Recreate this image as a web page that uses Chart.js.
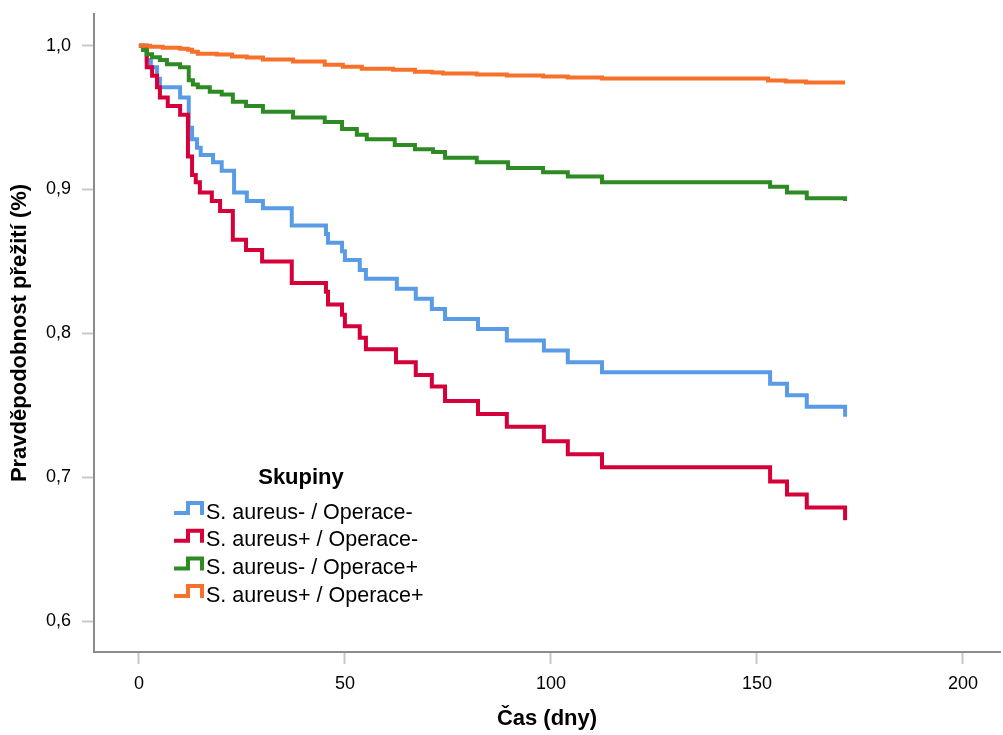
<!DOCTYPE html>
<html lang="cs">
<head>
<meta charset="utf-8">
<title>Přežití podle skupin</title>
<script src="https://cdn.jsdelivr.net/npm/chart.js@4.4.1/dist/chart.umd.min.js"></script>
<style>
  html, body { margin: 0; padding: 0; background: #fff; }
  #wrap { width: 1003px; height: 735px; }
</style>
</head>
<body>
<div id="wrap"><canvas id="kmChart" width="1003" height="735"></canvas></div>
<script>
// --- data (time in days, survival probability) ---
const groupNames = ['S. aureus- / Operace-', 'S. aureus+ / Operace-', 'S. aureus- / Operace+', 'S. aureus+ / Operace+'];
const groupColors = ['#5a9be6', '#d5003a', '#2e8a22', '#f7712a'];
const legendTitle = 'Skupiny';

const xTicks = [0, 50, 100, 150, 200];
const yTicks = [0.6, 0.7, 0.8, 0.9, 1.0];

const timeA = [0, 1.9, 2.9, 4.4, 5.1, 10.0, 12.1, 12.9, 14.1, 15.0, 18.0, 20.1, 23.1, 26.2, 30.1, 37.1, 45.4, 45.9, 49.3, 50.0, 53.6, 55.1, 62.6, 67.2, 71.1, 74.3, 82.3, 89.3, 98.3, 104.1, 112.4, 153.2, 157.3, 162.1, 171.4];
const survA = [1.000, 0.990, 0.985, 0.977, 0.971, 0.964, 0.943, 0.935, 0.929, 0.924, 0.919, 0.913, 0.898, 0.892, 0.887, 0.875, 0.869, 0.863, 0.857, 0.851, 0.844, 0.838, 0.831, 0.824, 0.817, 0.810, 0.803, 0.795, 0.788, 0.780, 0.773, 0.765, 0.757, 0.749, 0.742];

const timeB = [0, 1.9, 3.2, 4.4, 5.1, 7.0, 10.0, 11.9, 12.9, 13.8, 14.8, 17.7, 19.7, 22.8, 26.0, 29.9, 37.1, 45.4, 45.9, 49.3, 50.0, 53.6, 55.1, 62.4, 67.2, 71.1, 74.3, 82.3, 89.3, 98.3, 104.1, 112.4, 153.2, 157.3, 162.1, 171.4];
const survB = [1.000, 0.985, 0.979, 0.971, 0.964, 0.958, 0.952, 0.923, 0.910, 0.905, 0.898, 0.892, 0.885, 0.865, 0.858, 0.850, 0.835, 0.829, 0.820, 0.813, 0.805, 0.797, 0.789, 0.780, 0.771, 0.763, 0.753, 0.744, 0.735, 0.725, 0.716, 0.707, 0.697, 0.688, 0.679, 0.670];

const timeC = [0, 1.0, 1.9, 3.2, 5.1, 6.8, 10.0, 12.1, 13.1, 14.3, 17.2, 20.1, 22.8, 26.0, 30.1, 37.4, 45.1, 49.3, 52.9, 55.3, 62.1, 67.0, 71.4, 74.3, 82.0, 89.6, 98.1, 104.1, 112.4, 153.2, 157.3, 162.1, 171.4];
const survC = [1.000, 0.997, 0.994, 0.992, 0.990, 0.987, 0.985, 0.976, 0.973, 0.971, 0.968, 0.966, 0.961, 0.958, 0.954, 0.950, 0.947, 0.942, 0.938, 0.935, 0.931, 0.928, 0.926, 0.922, 0.919, 0.915, 0.912, 0.909, 0.905, 0.902, 0.898, 0.894, 0.892];

const timeD = [0, 2.7, 5.8, 10.0, 11.9, 12.9, 14.3, 18.9, 22.6, 26.2, 30.1, 37.4, 45.1, 49.5, 54.1, 61.7, 67.0, 71.1, 73.8, 82.0, 89.3, 98.1, 104.1, 112.4, 152.7, 157.0, 161.9, 171.4];
const survD = [1.000, 0.9993, 0.9986, 0.9979, 0.9972, 0.9958, 0.9944, 0.9938, 0.9924, 0.9917, 0.9903, 0.9889, 0.9868, 0.9854, 0.9840, 0.9833, 0.9819, 0.9813, 0.9806, 0.9799, 0.9792, 0.9785, 0.9778, 0.9771, 0.9757, 0.9750, 0.9743, 0.9743];

const FONT = 'Arial, "Liberation Sans", Helvetica, sans-serif';

const toPoints = (t, s) => t.map((v, i) => ({ x: v, y: s[i] }));
const series = [toPoints(timeA, survA), toPoints(timeB, survB), toPoints(timeC, survC), toPoints(timeD, survD)];

// legend drawn inside the plot, SPSS style with step icons
const stepLegend = {
    id: 'stepLegend',
    afterDatasetsDraw(chart) {
        const ctx = chart.ctx;
        ctx.save();
        ctx.fillStyle = '#000';
        ctx.textBaseline = 'alphabetic';
        ctx.font = 'bold 22px ' + FONT;
        ctx.textAlign = 'center';
        ctx.fillText(legendTitle, 301, 484);
        ctx.font = '21.5px ' + FONT;
        ctx.textAlign = 'left';
        groupNames.forEach((name, i) => {
            const base = 518.5 + i * 27.7;
            ctx.strokeStyle = groupColors[i];
            ctx.lineWidth = 4;
            ctx.lineJoin = 'miter';
            ctx.beginPath();
            ctx.moveTo(174, base - 5.5);
            ctx.lineTo(188, base - 5.5);
            ctx.lineTo(188, base - 15.5);
            ctx.lineTo(202, base - 15.5);
            ctx.lineTo(202, base - 3.5);
            ctx.stroke();
            ctx.fillText(name, 206, base);
        });
        ctx.restore();
    }
};

const fmt = v => Number(v).toFixed(1).replace('.', ',');

new Chart(document.getElementById('kmChart'), {
    type: 'line',
    data: {
        datasets: series.map((pts, i) => ({
            label: groupNames[i],
            data: pts,
            borderColor: groupColors[i],
            backgroundColor: groupColors[i],
            borderWidth: 4,
            stepped: true,
            pointRadius: 0,
            fill: false,
            borderJoinStyle: 'miter',
            borderCapStyle: 'butt',
            order: 4 - i
        }))
    },
    options: {
        responsive: false,
        animation: false,
        events: [],
        layout: { padding: { top: 14, right: 3, left: 0, bottom: 0 } },
        plugins: { legend: { display: false }, tooltip: { enabled: false } },
        scales: {
            x: {
                type: 'linear',
                min: -10.9,
                max: 209,
                afterBuildTicks: s => { s.ticks = xTicks.map(v => ({ value: v })); },
                afterFit: s => { s.height = 83; s.paddingLeft = 0; s.paddingRight = 0; },
                ticks: { color: '#000', font: { family: FONT, size: 18 }, padding: 9, maxRotation: 0 },
                grid: { drawOnChartArea: false, drawTicks: true, tickLength: 12, tickColor: '#c8c8c8', tickWidth: 2 },
                border: { display: true, color: '#8c8c8c', width: 2 },
                title: { display: true, text: 'Čas (dny)', color: '#000', font: { family: FONT, size: 22, weight: 'bold' }, padding: { top: 0, bottom: 3 } }
            },
            y: {
                type: 'linear',
                min: 0.5785,
                max: 1.022,
                afterBuildTicks: s => { s.ticks = yTicks.map(v => ({ value: v })); },
                afterFit: s => { s.width = 94; s.paddingTop = 0; s.paddingBottom = 0; },
                ticks: { color: '#000', font: { family: FONT, size: 18 }, padding: 11, callback: v => fmt(v) },
                grid: { drawOnChartArea: false, drawTicks: true, tickLength: 12, tickColor: '#c8c8c8', tickWidth: 2 },
                border: { display: true, color: '#8c8c8c', width: 2 },
                title: { display: true, text: 'Pravděpodobnost přežití (%)', color: '#000', font: { family: FONT, size: 22, weight: 'bold' }, padding: { top: 7, bottom: 0 } }
            }
        }
    },
    plugins: [stepLegend]
});
</script>
</body>
</html>
